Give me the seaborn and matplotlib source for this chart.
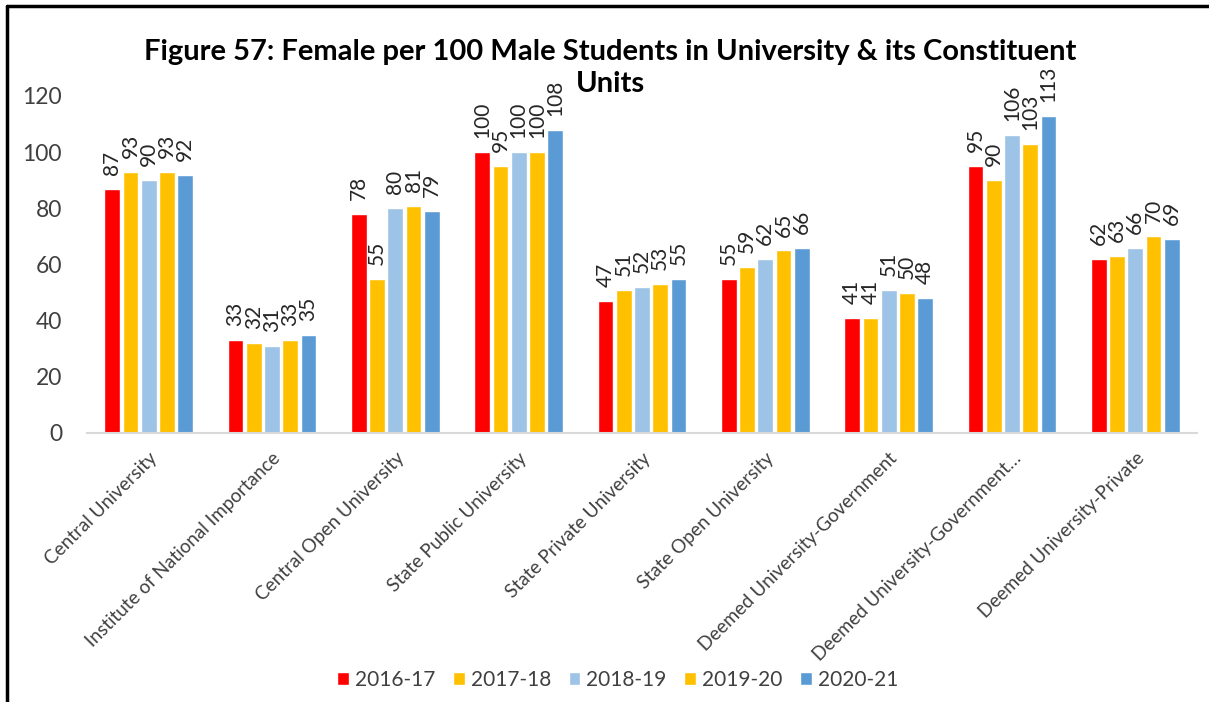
import matplotlib
matplotlib.use("Agg")
import matplotlib.pyplot as plt
from matplotlib.lines import Line2D
import seaborn as sns
import pandas as pd

categories = [
    "Central University",
    "Institute of National Importance",
    "Central Open University",
    "State Public University",
    "State Private University",
    "State Open University",
    "Deemed University-Government",
    "Deemed University-Government…",
    "Deemed University-Private",
]
years = ["2016-17", "2017-18", "2018-19", "2019-20", "2020-21"]

v_2016_17 = [87, 33, 78, 100, 47, 55, 41, 95, 62]
v_2017_18 = [93, 32, 55, 95, 51, 59, 41, 90, 63]
v_2018_19 = [90, 31, 80, 100, 52, 62, 51, 106, 66]
v_2019_20 = [93, 33, 81, 100, 53, 65, 50, 103, 70]
v_2020_21 = [92, 35, 79, 108, 55, 66, 48, 113, 69]

year_colors = ["#FF0000", "#FFC000", "#9DC3E6", "#FFC000", "#5B9BD5"]

series = [v_2016_17, v_2017_18, v_2018_19, v_2019_20, v_2020_21]
rows = []
for yr, vals in zip(years, series):
    for cat, v in zip(categories, vals):
        rows.append({"Category": cat, "Year": yr, "Value": v})
df = pd.DataFrame(rows)

sns.set_theme(style="white")
plt.rcParams["font.family"] = ["Lato", "DejaVu Sans"]

text_col = "#404040"

fig = plt.figure(figsize=(12.09, 7.02), dpi=100)
ax = fig.add_axes([87 / 1209, 1 - 433 / 702, 1110 / 1209, 337 / 702])

sns.barplot(
    data=df, x="Category", y="Value", hue="Year", order=categories,
    hue_order=years, palette=dict(zip(years, year_colors)),
    width=0.74, gap=0.14, saturation=1, errorbar=None, ax=ax,
)

for cont in ax.containers:
    ax.bar_label(cont, fmt="%.0f", padding=10, rotation=90,
                 fontsize=15, color="#262626", clip_on=False)

ax.set_ylim(0, 120)
ax.set_yticks(range(0, 121, 20))
ax.set_xlim(-0.5, len(categories) - 0.5)
ax.set_xlabel("")
ax.set_ylabel("")
for s in ["top", "right", "left"]:
    ax.spines[s].set_visible(False)
ax.spines["bottom"].set_color("#D9D9D9")
ax.spines["bottom"].set_linewidth(1.5)
ax.tick_params(axis="y", length=0, labelsize=16.5, labelcolor=text_col, pad=18)
ax.tick_params(axis="x", length=0, labelsize=13.6, labelcolor=text_col, pad=12)
plt.setp(ax.get_xticklabels(), rotation=45, ha="right",
         rotation_mode="anchor")

handles, labels = ax.get_legend_handles_labels()
ax.legend(handles, labels, loc="center", bbox_to_anchor=(0.511, 1 - 680 / 702),
          bbox_transform=fig.transFigure, ncol=5, frameon=False,
          fontsize=15, handlelength=0.55, handleheight=0.55,
          handletextpad=0.3, columnspacing=0.85, labelcolor=text_col)

fig.text(0.505, 1 - 68 / 702,
         "Figure 57: Female per 100 Male Students in University & its Constituent\nUnits",
         ha="center", va="center", fontsize=21, fontweight="bold",
         color="#000000", linespacing=1.3)

# outer frame: left and top edges
fig.add_artist(Line2D([7 / 1209, 7 / 1209], [0, 1 - 6 / 702],
                      transform=fig.transFigure, color="black", lw=2.5))
fig.add_artist(Line2D([7 / 1209, 1], [1 - 6 / 702, 1 - 6 / 702],
                      transform=fig.transFigure, color="black", lw=2.5))

fig.savefig("out.png", dpi=100)
